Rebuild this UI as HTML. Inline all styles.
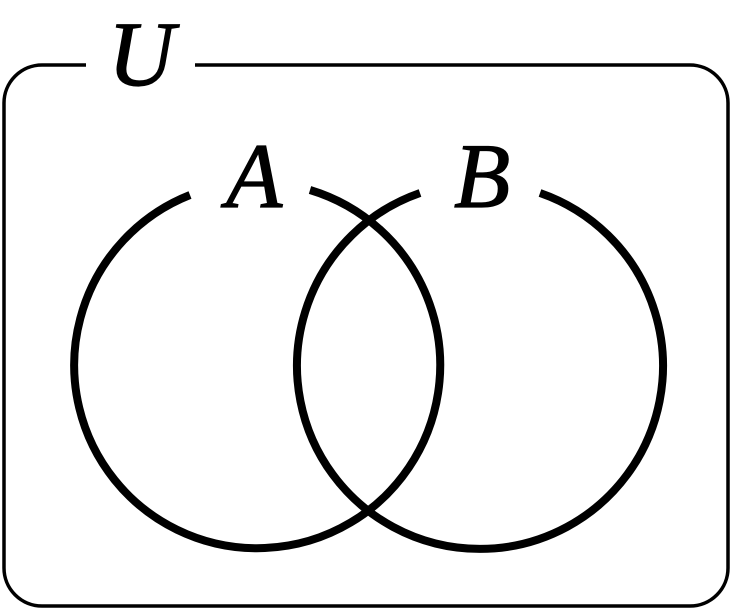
<!DOCTYPE html>
<html><head><style>
html,body{margin:0;padding:0;background:#fff;}
svg{display:block;}
text{font-family:"Liberation Serif",serif;font-style:italic;font-size:92px;fill:#000;stroke:#000;stroke-width:1.2;}
</style></head><body>
<svg width="732" height="611" viewBox="0 0 732 611">
<path d="M195,65 L690,65 A38,38 0 0 1 728,103 L728,568 A38,38 0 0 1 690,606 L42,606 A38,38 0 0 1 4,568 L4,103 A38,38 0 0 1 42,65 L86,65" fill="none" stroke="#000" stroke-width="3.5"/>
<path d="M310,190 A183,183 0 1 1 190,195" fill="none" stroke="#000" stroke-width="8"/>
<path d="M540,193 A183,183 0 1 1 420,193" fill="none" stroke="#000" stroke-width="8"/>
<text x="108" y="85">U</text>
<text x="226" y="207">A</text>
<text x="454" y="207">B</text>
</svg>
</body></html>
